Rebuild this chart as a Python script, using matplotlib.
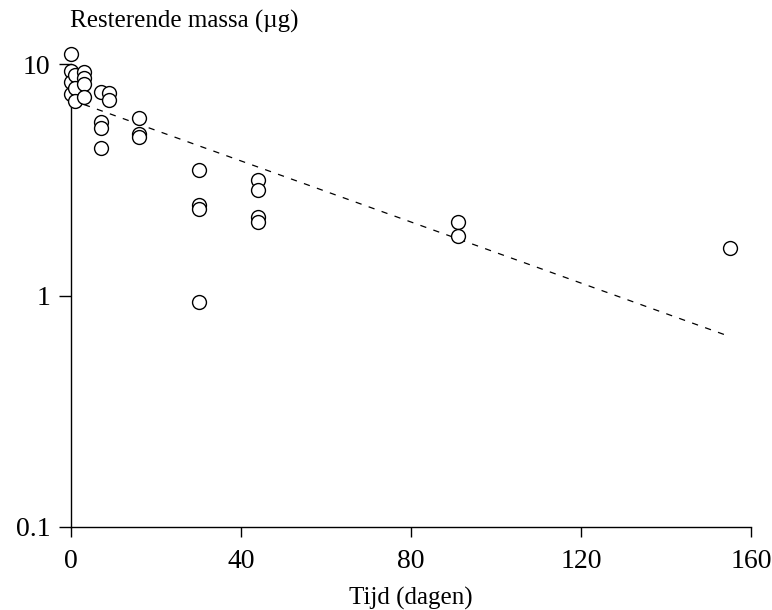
import matplotlib
matplotlib.use("Agg")
import matplotlib.pyplot as plt
from matplotlib.ticker import FixedLocator, NullLocator, FixedFormatter

plt.rcParams['font.family'] = ['Liberation Serif', 'DejaVu Serif']

days = [0, 0, 0, 0,
        1, 1, 1,
        3, 3, 3, 3,
        7, 7, 7, 7,
        9, 9,
        16, 16, 16,
        30, 30, 30, 30,
        44, 44, 44, 44,
        91, 91,
        155]
mass = [11.0, 9.3, 8.4, 7.4,
        9.0, 7.9, 6.9,
        9.2, 8.7, 8.2, 7.2,
        7.6, 5.6, 5.3, 4.35,
        7.5, 7.0,
        5.85, 5.0, 4.85,
        3.5, 2.45, 2.37, 0.94,
        3.16, 2.87, 2.19, 2.07,
        2.08, 1.80,
        1.61]

fit_days = [0, 155]
fit_mass = [7.0, 0.665]

xticks = [0, 40, 80, 120, 160]
yticks = [0.1, 1, 10]
ytick_labels = ['0.1', '1', '10']

fig = plt.figure(figsize=(7.72, 6.10), dpi=100)
L, R, T, B = 71, 751, 64, 527
ax = fig.add_axes([L/772, 1-B/610, (R-L)/772, (B-T)/610])

ax.plot(fit_days, fit_mass, linestyle=(0, (5, 6)), color='black', lw=0.9)
ax.plot(days, mass, linestyle='none', marker='o', ms=10, mfc='white',
        mec='black', mew=1.0, clip_on=False, zorder=3)

ax.set_yscale('log')
ax.set_xlim(0, 160)
ax.set_ylim(0.1, 10)
ax.xaxis.set_major_locator(FixedLocator(xticks))
ax.yaxis.set_major_locator(FixedLocator(yticks))
ax.yaxis.set_major_formatter(FixedFormatter(ytick_labels))
ax.yaxis.set_minor_locator(NullLocator())
ax.xaxis.set_minor_locator(NullLocator())

for s in ['top', 'right']:
    ax.spines[s].set_visible(False)
for s in ['left', 'bottom']:
    ax.spines[s].set_linewidth(1.0)

ax.tick_params(axis='x', direction='out', length=7, width=1.0, labelsize=20, pad=9)
ax.tick_params(axis='y', direction='out', length=9, width=1.0, labelsize=20, pad=6)

fig.text((L+R)/2/772, 1-598/610, 'Tijd (dagen)', fontsize=18, ha='center', va='center')
fig.text(70/772, 1-21/610, 'Resterende massa (µg)', fontsize=18, ha='left', va='center')

fig.savefig('out.png', dpi=100)
